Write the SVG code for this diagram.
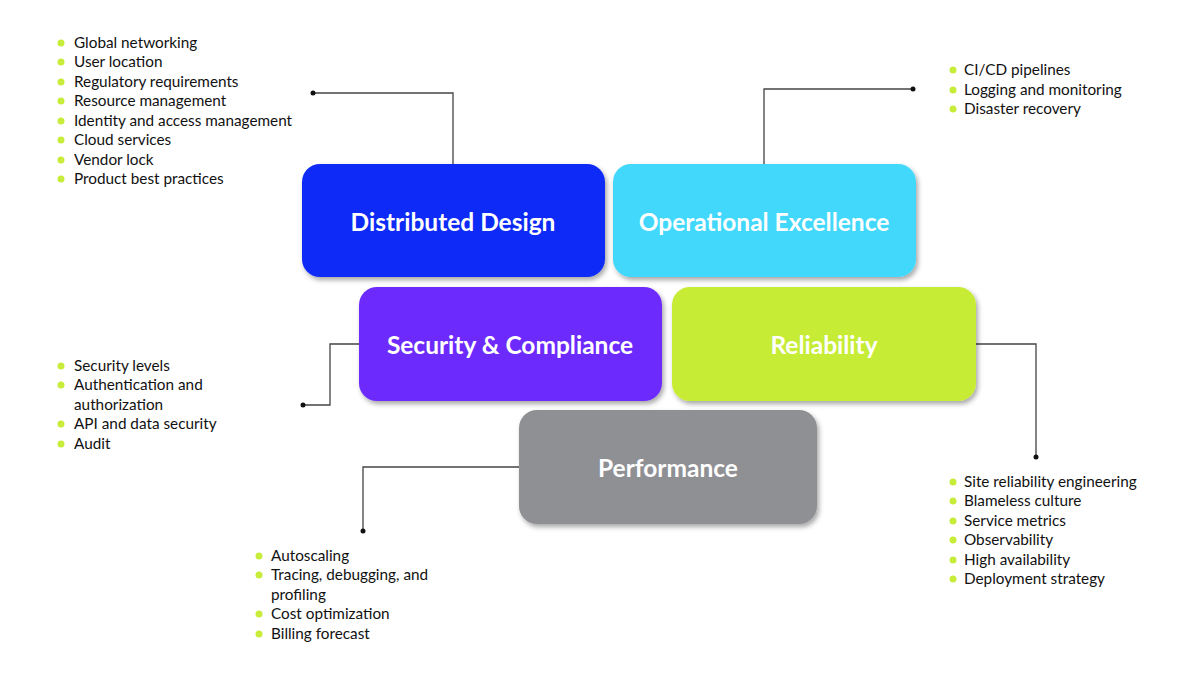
<svg xmlns="http://www.w3.org/2000/svg" width="1200" height="696" viewBox="0 0 1200 696">
<defs>
<filter id="sh" x="-10%" y="-10%" width="125%" height="130%">
<feDropShadow dx="2" dy="3" stdDeviation="2.5" flood-color="#000" flood-opacity="0.35"/>
</filter>
<style>
.box{filter:url(#sh);}
.title{font-family:Lato,"Open Sans","Liberation Sans",sans-serif;font-weight:700;font-size:24.5px;fill:#fff;text-anchor:middle;}
.item{font-family:Lato,"Open Sans","Liberation Sans",sans-serif;font-size:15.3px;fill:#111;}
.bul{fill:#c8ec3a;}
.con{fill:none;stroke:#444;stroke-width:1.3;}
.dot{fill:#111;}
</style>
</defs>
<rect width="1200" height="696" fill="#fff"/>

<g id="connectors">
<polyline class="con" points="313,93 453,93 453,164"/>
<circle class="dot" cx="313" cy="93" r="2.5"/>
<polyline class="con" points="764,164 764,89 913,89"/>
<circle class="dot" cx="913" cy="89" r="2.5"/>
<polyline class="con" points="359,344 330,344 330,405 303,405"/>
<circle class="dot" cx="303" cy="405" r="2.5"/>
<polyline class="con" points="976,344 1036,344 1036,457"/>
<circle class="dot" cx="1036" cy="457" r="2.5"/>
<polyline class="con" points="519,467 363,467 363,531"/>
<circle class="dot" cx="363" cy="531" r="2.5"/>
</g>

<g id="distributed-design">
<rect class="box" x="302" y="164" width="303" height="113" rx="18" fill="#0b2bf7"/>
<text class="title" x="453" y="231">Distributed Design</text>
</g>
<g id="operational-excellence">
<rect class="box" x="613" y="164" width="303" height="113" rx="18" fill="#42d8fc"/>
<text class="title" x="764" y="231">Operational Excellence</text>
</g>
<g id="security-compliance">
<rect class="box" x="359" y="287" width="303" height="114" rx="18" fill="#6c2cfc"/>
<text class="title" x="510" y="354">Security &amp; Compliance</text>
</g>
<g id="reliability">
<rect class="box" x="672" y="287" width="304" height="114" rx="18" fill="#c6ec36"/>
<text class="title" x="824" y="354">Reliability</text>
</g>
<g id="performance">
<rect class="box" x="519" y="410" width="298" height="114" rx="18" fill="#8f9094"/>
<text class="title" x="668" y="477">Performance</text>
</g>

<g id="list-distributed">
<circle class="bul" cx="61" cy="43" r="3.5"/><text class="item" x="74" y="48">Global networking</text>
<circle class="bul" cx="61" cy="62" r="3.5"/><text class="item" x="74" y="67">User location</text>
<circle class="bul" cx="61" cy="82" r="3.5"/><text class="item" x="74" y="87">Regulatory requirements</text>
<circle class="bul" cx="61" cy="101" r="3.5"/><text class="item" x="74" y="106">Resource management</text>
<circle class="bul" cx="61" cy="121" r="3.5"/><text class="item" x="74" y="126">Identity and access management</text>
<circle class="bul" cx="61" cy="140" r="3.5"/><text class="item" x="74" y="145">Cloud services</text>
<circle class="bul" cx="61" cy="160" r="3.5"/><text class="item" x="74" y="165">Vendor lock</text>
<circle class="bul" cx="61" cy="179" r="3.5"/><text class="item" x="74" y="184">Product best practices</text>
</g>

<g id="list-operational">
<circle class="bul" cx="953" cy="70" r="3.5"/><text class="item" x="964" y="75">CI/CD pipelines</text>
<circle class="bul" cx="953" cy="90" r="3.5"/><text class="item" x="964" y="95">Logging and monitoring</text>
<circle class="bul" cx="953" cy="109" r="3.5"/><text class="item" x="964" y="114">Disaster recovery</text>
</g>

<g id="list-security">
<circle class="bul" cx="61" cy="366" r="3.5"/><text class="item" x="74" y="371">Security levels</text>
<circle class="bul" cx="61" cy="385" r="3.5"/><text class="item" x="74" y="390">Authentication and</text>
<text class="item" x="74" y="410">authorization</text>
<circle class="bul" cx="61" cy="424" r="3.5"/><text class="item" x="74" y="429">API and data security</text>
<circle class="bul" cx="61" cy="444" r="3.5"/><text class="item" x="74" y="449">Audit</text>
</g>

<g id="list-performance">
<circle class="bul" cx="259" cy="556" r="3.5"/><text class="item" x="271" y="561">Autoscaling</text>
<circle class="bul" cx="259" cy="575" r="3.5"/><text class="item" x="271" y="580">Tracing, debugging, and</text>
<text class="item" x="271" y="600">profiling</text>
<circle class="bul" cx="259" cy="614" r="3.5"/><text class="item" x="271" y="619">Cost optimization</text>
<circle class="bul" cx="259" cy="634" r="3.5"/><text class="item" x="271" y="639">Billing forecast</text>
</g>

<g id="list-reliability">
<circle class="bul" cx="953" cy="482" r="3.5"/><text class="item" x="964" y="487">Site reliability engineering</text>
<circle class="bul" cx="953" cy="501" r="3.5"/><text class="item" x="964" y="506">Blameless culture</text>
<circle class="bul" cx="953" cy="521" r="3.5"/><text class="item" x="964" y="526">Service metrics</text>
<circle class="bul" cx="953" cy="540" r="3.5"/><text class="item" x="964" y="545">Observability</text>
<circle class="bul" cx="953" cy="560" r="3.5"/><text class="item" x="964" y="565">High availability</text>
<circle class="bul" cx="953" cy="579" r="3.5"/><text class="item" x="964" y="584">Deployment strategy</text>
</g>
</svg>
